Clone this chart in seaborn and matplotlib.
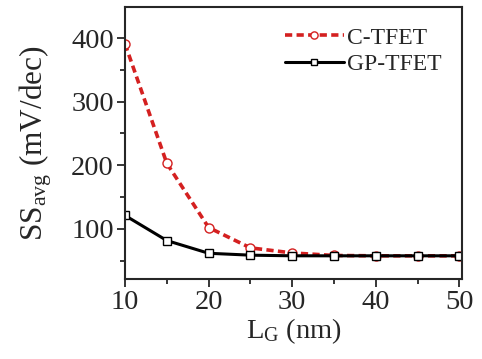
import matplotlib
matplotlib.use("Agg")
from matplotlib import pyplot as plt
from matplotlib.ticker import MultipleLocator
import pandas as pd
import seaborn as sns

lg = [10, 15, 20, 25, 30, 35, 40, 45, 50]
ss_c = [391, 203, 102, 70, 62, 58, 57.5, 57.5, 57.5]
ss_gp = [121, 81.5, 61.5, 58.5, 57.5, 57.5, 57.5, 57.5, 57.5]

df = pd.DataFrame({'LG': lg + lg,
                   'SS': ss_c + ss_gp,
                   'dev': ['C-TFET'] * len(lg) + ['GP-TFET'] * len(lg)})

sns.set_style("ticks")
plt.rcParams['font.family'] = ['Liberation Serif', 'DejaVu Serif']
plt.rcParams['mathtext.fontset'] = 'custom'
plt.rcParams['mathtext.rm'] = 'Liberation Serif'
plt.rcParams['mathtext.it'] = 'Liberation Serif:italic'

fig = plt.figure(figsize=(4.82, 3.59), dpi=100)
ax = fig.add_axes([125/482, 1 - 279/359, 337/482, 272/359])

sns.lineplot(data=df[df.dev == 'C-TFET'], x='LG', y='SS', ax=ax, color='#d42020',
             linestyle=(0, (2.0, 1.2)), lw=2.6, marker='o', markersize=6.5,
             markerfacecolor='white', markeredgecolor='#d42020', markeredgewidth=1,
             label='C-TFET')
sns.lineplot(data=df[df.dev == 'GP-TFET'], x='LG', y='SS', ax=ax, color='black',
             lw=2.2, marker='s', markersize=6, markerfacecolor='white',
             markeredgecolor='black', markeredgewidth=1, label='GP-TFET')

ax.set_xlim(10, 50.3)
ax.set_ylim(21, 449)
ax.xaxis.set_major_locator(MultipleLocator(10))
ax.xaxis.set_minor_locator(MultipleLocator(5))
ax.yaxis.set_major_locator(MultipleLocator(100))
ax.yaxis.set_minor_locator(MultipleLocator(50))
ax.tick_params(which='major', direction='out', length=6, width=1.3, labelsize=20.5, pad=2)
ax.tick_params(which='minor', direction='out', length=3.5, width=1.3)
for s in ax.spines.values():
    s.set_linewidth(1.5)
    s.set_visible(True)

ax.set_xlabel(r'L$_{\rm G}$ (nm)', fontsize=20.5, labelpad=1)
ax.set_ylabel(r'SS$_{\rm avg}$ (mV/dec)', fontsize=22.5, labelpad=12)

leg = ax.legend(loc='upper right', frameon=False, fontsize=17, handlelength=2.5,
                handletextpad=0.15, borderaxespad=0.45, labelspacing=0.2,
                markerscale=0.8)

fig.savefig('out.png', dpi=100)
